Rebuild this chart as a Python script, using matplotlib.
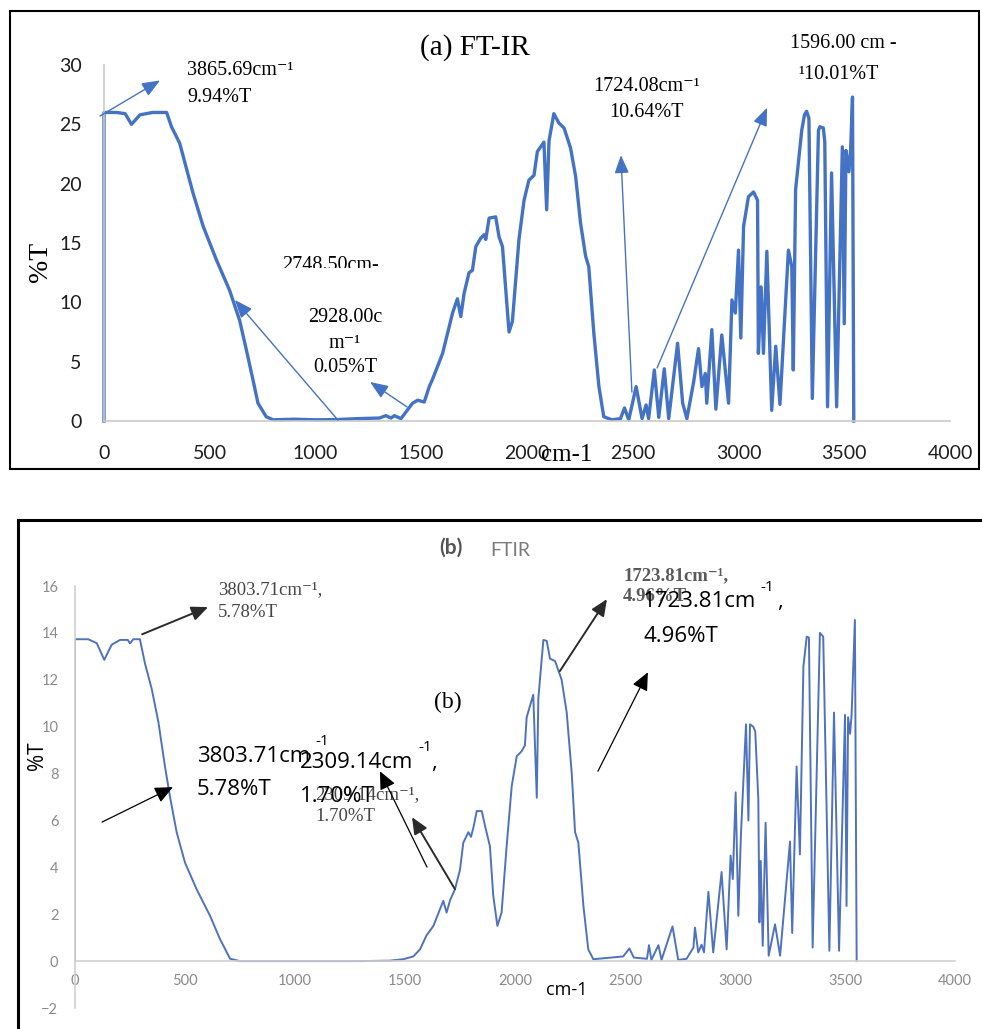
import numpy as np
import matplotlib
matplotlib.use('Agg')
import matplotlib.pyplot as plt
from matplotlib.lines import Line2D
from matplotlib.patches import Rectangle

W, H = 982, 1029

# panel (a) spectrum
top_x = [0, 0, 60, 100, 130, 170, 230, 296, 319, 358, 421, 469, 531, 594, 641, 673, 704, 728,
         767, 799, 900, 1000, 1100, 1200, 1302, 1333, 1357, 1373, 1404, 1459, 1483, 1514, 1538,
         1553, 1601, 1648, 1671, 1687, 1703, 1726, 1742, 1758, 1781, 1797, 1805, 1821, 1852,
         1868, 1884, 1915, 1931, 1962, 1986, 2009, 2033, 2049, 2080, 2093, 2104, 2127, 2151,
         2175, 2206, 2230, 2253, 2277, 2292, 2316, 2340, 2363, 2402, 2442, 2461, 2481, 2516,
         2544, 2563, 2575, 2602, 2623, 2649, 2670, 2712, 2736, 2756, 2788, 2811, 2827, 2843,
         2850, 2874, 2893, 2921, 2953, 2969, 2985, 3000, 3011, 3024, 3047, 3071, 3090, 3094,
         3107, 3118, 3134, 3157, 3176, 3196, 3236, 3252, 3259, 3270, 3299, 3312, 3322, 3333,
         3349, 3378, 3385, 3401, 3408, 3421, 3440, 3464, 3491, 3500, 3508, 3522, 3530, 3539, 3545]
top_y = [0, 26.0, 26.0, 25.9, 25.0, 25.8, 26.0, 26.0, 24.8, 23.4, 19.2, 16.4, 13.6, 11.0, 8.5,
         6.0, 3.5, 1.5, 0.36, 0.1, 0.15, 0.1, 0.12, 0.2, 0.25, 0.45, 0.25, 0.45, 0.2, 1.5, 1.75,
         1.6, 2.9, 3.5, 5.7, 9.1, 10.3, 8.8, 10.8, 12.5, 12.7, 14.7, 15.4, 15.7, 15.3, 17.1, 17.2,
         15.5, 14.7, 7.5, 8.4, 15.3, 18.6, 20.3, 20.7, 22.7, 23.5, 17.8, 23.6, 25.9, 25.1, 24.7,
         23.0, 20.6, 16.7, 13.9, 13.0, 7.4, 2.9, 0.36, 0.1, 0.2, 1.1, 0.1, 2.9, 0.2, 1.35, 0.2,
         4.3, 0.3, 4.4, 0.2, 6.55, 1.5, 0.2, 3.3, 6.1, 2.9, 4.0, 1.5, 7.7, 1.0, 7.25, 1.5, 10.2,
         9.1, 14.4, 7.0, 16.4, 18.9, 19.3, 18.6, 5.7, 11.3, 5.7, 14.3, 0.9, 6.3, 1.4, 14.4, 13.0,
         4.3, 19.5, 24.5, 25.8, 26.1, 25.5, 1.9, 24.5, 24.8, 24.7, 23.5, 1.2, 20.9, 1.2, 23.1, 8.2,
         22.8, 21.0, 22.8, 27.3, 0]

# panel (b) spectrum
bot_x = [0, 0, 60, 99, 133, 167, 205, 240, 250, 265, 295, 318, 349, 379, 409, 432, 462, 500,
         553, 614, 659, 705, 750, 1000, 1300, 1432, 1492, 1538, 1568, 1598, 1629, 1674, 1689,
         1705, 1727, 1750, 1765, 1788, 1800, 1811, 1826, 1849, 1864, 1886, 1901, 1920, 1939,
         1962, 1985, 2008, 2030, 2045, 2053, 2083, 2099, 2106, 2129, 2144, 2159, 2182, 2212,
         2235, 2258, 2273, 2288, 2311, 2333, 2356, 2492, 2520, 2540, 2600, 2609, 2620, 2652,
         2666, 2716, 2742, 2780, 2811, 2818, 2833, 2848, 2859, 2879, 2901, 2939, 2962, 2980,
         2990, 3003, 3015, 3027, 3050, 3061, 3068, 3083, 3092, 3106, 3111, 3117, 3126, 3139,
         3153, 3182, 3205, 3250, 3260, 3280, 3295, 3311, 3326, 3336, 3353, 3386, 3401, 3429,
         3450, 3473, 3500, 3507, 3514, 3523, 3530, 3545, 3553]
bot_y = [0, 13.73, 13.73, 13.56, 12.85, 13.5, 13.7, 13.7, 13.55, 13.73, 13.73, 12.7, 11.6, 10.2,
         8.3, 7.0, 5.5, 4.2, 3.06, 1.93, 0.94, 0.1, 0.0, 0.0, 0.0, 0.02, 0.08, 0.2, 0.5, 1.1, 1.5,
         2.57, 2.07, 2.6, 3.06, 3.9, 5.05, 5.5, 5.3, 5.7, 6.4, 6.4, 5.76, 4.9, 2.8, 1.5, 2.07, 4.9,
         7.46, 8.74, 8.95, 9.2, 10.4, 11.36, 6.97, 11.2, 13.7, 13.66, 12.9, 12.8, 12.0, 10.6, 8.0,
         5.5, 5.05, 2.35, 0.5, 0.08, 0.2, 0.54, 0.15, 0.1, 0.68, 0.05, 0.68, 0.05, 1.48, 0.05, 0.1,
         0.58, 1.43, 0.37, 0.7, 0.37, 2.95, 0.37, 3.8, 0.5, 4.5, 3.5, 7.2, 1.93, 5.4, 10.1, 6.0,
         10.1, 10.0, 9.8, 6.9, 1.65, 4.27, 0.65, 5.9, 0.23, 1.57, 0.23, 5.1, 1.2, 8.3, 4.55, 12.57,
         13.84, 13.8, 0.58, 14.0, 13.84, 0.44, 10.6, 0.44, 10.5, 2.35, 10.4, 9.7, 10.5, 14.55, 0]

xticks = np.arange(0, 4001, 500)
top_yticks = np.arange(0, 31, 5)
bot_yticks = np.arange(-2, 17, 2)

blue = '#4472C4'
serif = ['Liberation Serif', 'DejaVu Serif']
sans = ['Open Sans', 'DejaVu Sans']


def fx(px):
    return px / W


def fy(py):
    return 1 - py / H


fig = plt.figure(figsize=(W / 100, H / 100), dpi=100)

# ---------- panel (a) ----------
ax1 = fig.add_axes([fx(104), fy(421), 846 / W, 356 / H])
ax1.plot(top_x, top_y, color=blue, lw=2.4, solid_joinstyle='round', clip_on=False)
ax1.set_xlim(0, 4000)
ax1.set_ylim(0, 30)
ax1.set_xticks(xticks)
ax1.set_yticks(top_yticks)
for s in ['top', 'right']:
    ax1.spines[s].set_visible(False)
for s in ['left', 'bottom']:
    ax1.spines[s].set_color('#c9c9c9')
    ax1.spines[s].set_linewidth(1.2)
ax1.tick_params(axis='both', length=0, labelsize=14, labelcolor='#1e1e1e')
ax1.tick_params(axis='y', pad=16)
ax1.tick_params(axis='x', pad=17)
for lab in ax1.get_xticklabels() + ax1.get_yticklabels():
    lab.set_family('Lato')

fig.text(fx(475), fy(48), '(a) FT-IR', family=serif, fontsize=21, ha='center', va='center')
fig.text(fx(41), fy(262), '%T', family=serif, fontsize=20, rotation=90, ha='center', va='center')
fig.text(fx(567), fy(455), 'cm-1', family=serif, fontsize=18, ha='center', va='center')

tsz = 14.5
ax1.text(392, 29.5, '3865.69cm\u207b\u00b9', family=serif, fontsize=tsz, va='center', clip_on=False)
ax1.text(392, 27.3, '9.94%T', family=serif, fontsize=tsz, va='center', clip_on=False)
ax1.text(1073, 13.1, '2748.50cm-', family=serif, fontsize=tsz, ha='center', va='center', zorder=3)
ax1.add_patch(Rectangle((823, 11.6), 520, 1.3, facecolor='white', edgecolor='none', zorder=4))
ax1.text(1139, 8.68, '2928.00c', family=serif, fontsize=tsz, ha='center', va='center')
ax1.text(1139, 6.57, 'm\u207b\u00b9', family=serif, fontsize=tsz, ha='center', va='center')
ax1.text(1139, 4.47, '0.05%T', family=serif, fontsize=tsz, ha='center', va='center')
ax1.text(2567, 28.2, '1724.08cm\u207b\u00b9', family=serif, fontsize=tsz, ha='center', va='center', clip_on=False)
ax1.text(2567, 26.0, '10.64%T', family=serif, fontsize=tsz, ha='center', va='center', clip_on=False)
ax1.text(3243, 31.8, '1596.00 cm -', family=serif, fontsize=tsz, va='center', clip_on=False)
ax1.text(3281, 29.2, '\u00b910.01%T', family=serif, fontsize=tsz, va='center', clip_on=False)

top_arrows = [((-19, 25.7), (265, 28.7)),
              ((1106, 0.08), (619, 10.2)),
              ((1433, 1.18), (1258, 3.29)),
              ((2496, 2.44), (2444, 22.4)),
              ((2615, 4.47), (3135, 26.4))]
for tail, head in top_arrows:
    ax1.annotate('', xy=head, xytext=tail, annotation_clip=False,
                 arrowprops=dict(arrowstyle='-|>,head_length=0.55,head_width=0.22',
                                 mutation_scale=20, lw=1.0, color=blue,
                                 shrinkA=0, shrinkB=0))

# ---------- panel (b) ----------
ax2 = fig.add_axes([fx(75), fy(1008), 880 / W, 422 / H])
ax2.plot(bot_x, bot_y, color='#4f72bf', lw=1.4, solid_joinstyle='round')
ax2.set_xlim(0, 4000)
ax2.set_ylim(-2, 16)
ax2.set_xticks(xticks)
ax2.set_yticks(bot_yticks)
for s in ['top', 'right']:
    ax2.spines[s].set_visible(False)
ax2.spines['bottom'].set_position(('data', 0))
for s in ['left', 'bottom']:
    ax2.spines[s].set_color('#d0d0d0')
    ax2.spines[s].set_linewidth(1.2)
ax2.tick_params(axis='both', length=0, labelsize=10.5, labelcolor='#8a8a8a')
ax2.tick_params(axis='y', pad=12)
ax2.tick_params(axis='x', pad=9)
for lab in ax2.get_xticklabels() + ax2.get_yticklabels():
    lab.set_family('Lato')

fig.text(fx(451), fy(548), '(b)', family='Lato', fontsize=15, weight='bold', color='#555555',
         ha='center', va='center')
fig.text(fx(510), fy(550), 'FTIR', family='Lato', fontsize=14, color='#7a7a7a',
         ha='center', va='center')
fig.text(fx(37), fy(756), '%T', family=sans, fontsize=15, rotation=90, ha='center', va='center')
fig.text(fx(567), fy(990), 'cm-1', family=sans, fontsize=13, ha='center', va='center')

gray = '#454545'
gsz = 13.5
ax2.text(650, 15.86, '3803.71cm\u207b\u00b9,', family=serif, fontsize=gsz, color=gray, va='center', clip_on=False)
ax2.text(650, 14.88, '5.78%T', family=serif, fontsize=gsz, color=gray, va='center', clip_on=False)
ax2.text(1091, 7.12, '2309.14cm\u207b\u00b9,', family=serif, fontsize=gsz, color=gray, va='center')
ax2.text(1091, 6.18, '1.70%T', family=serif, fontsize=gsz, color=gray, va='center')
ax2.text(2491, 16.42, '1723.81cm\u207b\u00b9,', family=serif, fontsize=gsz, color='#5a5a5a', weight='bold',
         va='center', clip_on=False)
ax2.text(2491, 15.56, '4.96%T', family=serif, fontsize=gsz, color='#5a5a5a', weight='bold',
         va='center', clip_on=False)

ax2.text(1695, 11.04, '(b)', family=serif, fontsize=17, ha='center', va='center')

ssz = 16
ax2.text(554, 8.74, '3803.71cm', family=sans, fontsize=ssz, va='center')
ax2.text(554, 7.33, '5.78%T', family=sans, fontsize=ssz, va='center')
ax2.text(1123, 9.38, '-1', family=sans, fontsize=11, ha='center', va='center')
ax2.text(1023, 8.49, '2309.14cm', family=sans, fontsize=ssz, va='center')
ax2.text(1591, 9.13, '-1', family=sans, fontsize=11, ha='center', va='center')
ax2.text(1620, 8.49, ',', family=sans, fontsize=ssz, va='center')
ax2.text(1023, 7.04, '1.70%T', family=sans, fontsize=ssz, va='center')
ax2.text(2582, 15.35, '1723.81cm', family=sans, fontsize=ssz, va='center', clip_on=False)
ax2.text(3145, 15.95, '-1', family=sans, fontsize=11, ha='center', va='center', clip_on=False)
ax2.text(3190, 15.35, ',', family=sans, fontsize=ssz, va='center', clip_on=False)
ax2.text(2582, 13.86, '4.96%T', family=sans, fontsize=ssz, va='center')

old_arrows = [((305, 13.94), (605, 15.10)),
              ((1727, 3.07), (1532, 6.14)),
              ((2204, 12.37), (2418, 15.44))]
new_arrows = [((123, 5.93), (445, 7.42)),
              ((1600, 4.01), (1386, 8.10)),
              ((2377, 8.10), (2604, 12.32))]
for tail, head in old_arrows:
    ax2.annotate('', xy=head, xytext=tail, annotation_clip=False,
                 arrowprops=dict(arrowstyle='-|>,head_length=0.5,head_width=0.22',
                                 mutation_scale=20, lw=1.4, color='#2b2b2b',
                                 shrinkA=0, shrinkB=0))
for tail, head in new_arrows:
    ax2.annotate('', xy=head, xytext=tail, annotation_clip=False,
                 arrowprops=dict(arrowstyle='-|>,head_length=0.55,head_width=0.25',
                                 mutation_scale=20, lw=0.9, color='black',
                                 shrinkA=0, shrinkB=0))

# ---------- frames round the two panels ----------
fig.add_artist(Rectangle((fx(10), fy(469)), (979 - 10) / W, (469 - 11) / H,
                         transform=fig.transFigure, fill=False, lw=1.5, edgecolor='black'))
fig.add_artist(Line2D([fx(18), fx(18)], [fy(520), fy(1040)], transform=fig.transFigure,
                      color='black', lw=2.2))
fig.add_artist(Line2D([fx(18), fx(990)], [fy(520), fy(520)], transform=fig.transFigure,
                      color='black', lw=2.2))

fig.savefig('out.png', dpi=100)
